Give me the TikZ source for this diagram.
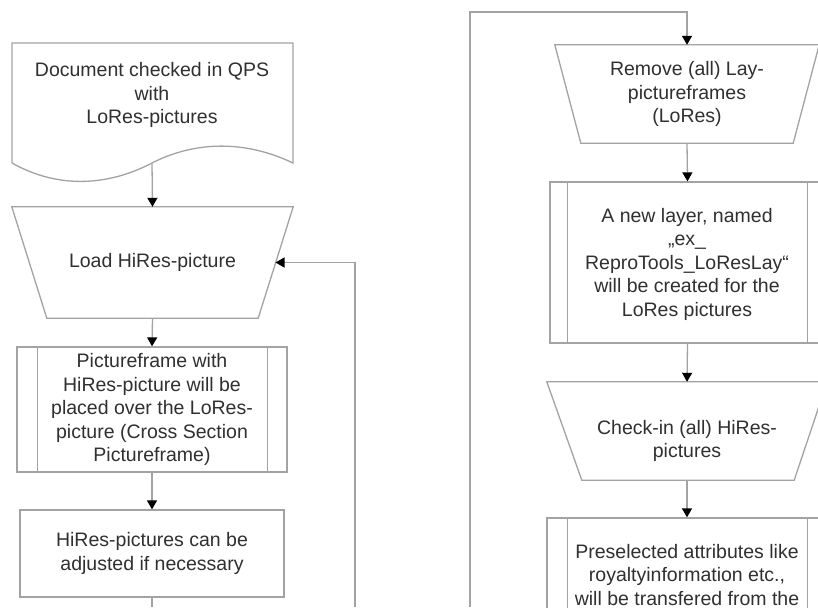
\documentclass[tikz,border=0pt]{standalone}
\usepackage{fontspec}
\setmainfont{Liberation Sans}
\usetikzlibrary{arrows.meta,calc}
\definecolor{linec}{HTML}{A3A3A3}
\definecolor{txtc}{HTML}{303030}
\begin{document}
\begin{tikzpicture}[x=1pt,y=-1pt,
  shp/.style={draw=linec, line width=1.3pt},
  box/.style={draw=linec, line width=1.3pt, inner sep=0pt},
  hid/.style={draw=none, inner sep=0pt},
  txt/.style={text=txtc, font=\fontsize{19.5}{23.5}\selectfont, align=center, inner sep=0pt},
  arr/.style={draw=linec, line width=1.3pt, -{Triangle[width=10pt,length=9pt,color=black,fill=black]}},
  ln/.style={draw=linec, line width=1.3pt}]
\useasboundingbox (0,0) rectangle (818,607);
\fill[white] (0,0) rectangle (818,607);
\clip (0,0) rectangle (818,607);

% ---------- left column ----------
% document shape
\draw[shp] (12,163) -- (12,43) -- (293,43) -- (293,163)
  .. controls (245,140) and (195,141) .. (152,163)
  .. controls (110,185) and (60,190) .. (12,163);
\node[txt] (doc) at (152,95) {Document checked in QPS\\with\\LoRes-pictures};
\coordinate (docB) at (152,163);

% load (manual operation)
\node[hid, minimum width=281pt, minimum height=111pt] (load) at (152.5,262.5) {};
\draw[shp] (load.north west) -- (load.north east) -- ($(load.south east)+(-35,0)$)
  -- ($(load.south west)+(35,0)$) -- cycle;
\node[txt] (loadt) at (load.center) {Load HiRes-picture};
\coordinate (loadR) at (275.5,262.5);

% predefined process
\node[box, minimum width=270pt, minimum height=125pt] (pf) at (152,409.5) {};
\draw[shp] ($(pf.north west)+(21,0)$) -- ($(pf.south west)+(21,0)$);
\draw[shp] ($(pf.north east)+(-20,0)$) -- ($(pf.south east)+(-20,0)$);
\node[txt] (pft) at (pf.center) {Pictureframe with\\HiRes-picture will be\\placed over the LoRes-\\picture (Cross Section\\Pictureframe)};

% process
\node[box, minimum width=264pt, minimum height=87pt] (adj) at (152,553.5) {};
\node[txt] (adjt) at (adj.center) {HiRes-pictures can be\\adjusted if necessary};
\coordinate (adjEnd) at (152,607);

\draw[arr] (docB) -- (load.north);
\draw[arr] (load.south) -- (pf.north);
\draw[arr] (pf.south) -- (adj.north);
\draw[ln] (adj.south) -- (adjEnd);

\coordinate (loopL) at (355,607);
\draw[arr] (loopL) |- (loadR);

% ---------- right column ----------
\node[hid, minimum width=264pt, minimum height=98pt] (rem) at (687,94) {};
\draw[shp] (rem.north west) -- (rem.north east) -- ($(rem.south east)+(-26,0)$)
  -- ($(rem.south west)+(26,0)$) -- cycle;
\node[txt] (remt) at (rem.center) {Remove (all) Lay-\\pictureframes\\(LoRes)};

\node[box, minimum width=275pt, minimum height=161pt] (nl) at (687.5,262.5) {};
\draw[shp] ($(nl.north west)+(18,0)$) -- ($(nl.south west)+(18,0)$);
\draw[shp] ($(nl.north east)+(-18,0)$) -- ($(nl.south east)+(-18,0)$);
\node[txt] (nlt) at (687,264) {A new layer, named\\„ex\_\\ReproTools\_LoResLay“\\will be created for the\\LoRes pictures};

\node[hid, minimum width=280pt, minimum height=98pt] (chk) at (687,431) {};
\draw[shp] (chk.north west) -- (chk.north east) -- ($(chk.south east)+(-33,0)$)
  -- ($(chk.south west)+(35,0)$) -- cycle;
\node[txt] (chkt) at (687,441) {Check-in (all) HiRes-\\pictures};

\node[box, minimum width=280pt, minimum height=182pt] (ps) at (687,609) {};
\draw[shp] ($(ps.north west)+(21,0)$) -- ($(ps.south west)+(21,0)$);
\draw[shp] ($(ps.north east)+(-20,0)$) -- ($(ps.south east)+(-20,0)$);
\node[txt] (pst) at (687,575) {Preselected attributes like\\royaltyinformation etc.,\\will be transfered from the};

\coordinate (loopR) at (470,607);
\coordinate (rtop) at (687,12);
\draw[arr] (loopR) |- (rtop) -- (rem.north);
\draw[arr] (rem.south) -- (nl.north);
\draw[arr] (nl.south) -- (chk.north);
\draw[arr] (chk.south) -- (ps.north);
\end{tikzpicture}
\end{document}
